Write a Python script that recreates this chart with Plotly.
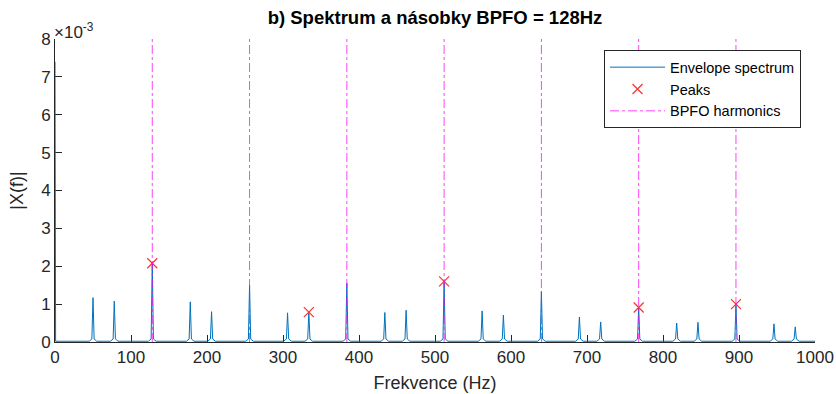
import plotly.graph_objects as go

# ---- data (amplitudes in units of 1e-3) ----
dc_value = 7.4
noise_floor = 0.02
spike_freqs = [50, 78, 128, 178, 206, 256, 306, 334, 384, 434, 462, 512, 562, 590,
               640, 690, 718, 768, 818, 846, 896, 946, 974]
spike_heights = [1.17, 1.08, 2.08, 1.06, 0.80, 1.50, 0.77, 0.78, 1.55, 0.78, 0.84, 1.58, 0.82, 0.71,
                 1.33, 0.66, 0.53, 0.90, 0.50, 0.52, 0.98, 0.48, 0.40]
spike_base = 0.08

peak_freqs = [128, 334, 512, 768, 896]
peak_heights = [2.08, 0.79, 1.60, 0.91, 1.00]

harmonics = [128, 256, 384, 512, 640, 768, 896]

x_ticks = [0, 100, 200, 300, 400, 500, 600, 700, 800, 900, 1000]
y_ticks = [0, 1, 2, 3, 4, 5, 6, 7, 8]

# ---- build spectrum line from the spike list ----
sx = [0, 0.8]
sy = [dc_value, noise_floor]
for f, h in zip(spike_freqs, spike_heights):
    sx += [f - 5, f - 1.5, f, f + 1.5, f + 5]
    sy += [noise_floor, spike_base, h, spike_base, noise_floor]
sx += [1000]
sy += [noise_floor]

hx, hy = [], []
for f in harmonics:
    hx += [f, f, None]
    hy += [0, 8, None]

axis_col = "#262626"
font_fam = "Liberation Sans, Arial, Helvetica, sans-serif"

fig = go.Figure()
fig.add_trace(go.Scatter(x=sx, y=sy, mode="lines", name="Envelope spectrum",
                         line=dict(color="#0072BD", width=1), cliponaxis=False))
fig.add_trace(go.Scatter(x=peak_freqs, y=peak_heights, mode="markers", name="Peaks",
                         marker=dict(symbol="x-thin", size=10,
                                     line=dict(color="#FF3030", width=1.2))))
fig.add_trace(go.Scatter(x=hx, y=hy, mode="lines", name="BPFO harmonics",
                         line=dict(color="rgba(255,0,255,0.75)", width=1, dash="dashdot")))

fig.update_layout(
    width=836, height=394,
    margin=dict(l=55, r=21, t=39, b=52, autoexpand=False),
    paper_bgcolor="white", plot_bgcolor="white",
    font=dict(family=font_fam, size=17, color=axis_col),
    title=dict(text="<b>b) Spektrum a násobky BPFO = 128Hz</b>",
               x=(55 + 380) / 836, xanchor="center", y=1 - 18 / 394, yanchor="middle",
               font=dict(size=18.5, color="black")),
    showlegend=True,
    legend=dict(x=0.9816, xanchor="right", y=0.963, yanchor="top",
                bordercolor=axis_col, borderwidth=1, bgcolor="white",
                font=dict(size=14.5, color="black"), tracegroupgap=0,
                itemwidth=55),
)
fig.update_xaxes(range=[0, 1000], tickvals=x_ticks, ticks="inside", ticklen=7,
                 tickcolor=axis_col, showline=True, linecolor=axis_col, linewidth=1,
                 showgrid=False, zeroline=False, mirror=False, automargin=False,
                 layer="below traces",
                 title=dict(text="Frekvence (Hz)", font=dict(size=18), standoff=9))
fig.update_yaxes(range=[0, 8], tickvals=y_ticks, ticks="inside", ticklen=7,
                 tickcolor=axis_col, showline=True, linecolor=axis_col, linewidth=1,
                 showgrid=False, zeroline=False, mirror=False, automargin=False,
                 layer="below traces",
                 title=dict(text="|X(f)|", font=dict(size=18), standoff=12))
fig.add_annotation(xref="paper", yref="paper", x=0, y=1, xanchor="left", yanchor="bottom",
                   text="×10<sup>-3</sup>", showarrow=False, font=dict(size=17, color=axis_col),
                   xshift=-3, yshift=-5)

fig.write_html("out.html", config={"displayModeBar": False},
               post_script="document.body.style.margin='0';document.body.style.overflow='hidden';")
